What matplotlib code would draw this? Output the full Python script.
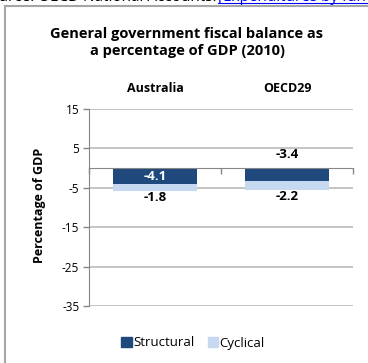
import matplotlib
matplotlib.use("Agg")
import matplotlib.pyplot as plt
from matplotlib.lines import Line2D
from matplotlib.patches import Patch

categories = ["Australia", "OECD29"]
structural = [-4.1, -3.4]
cyclical = [-1.8, -2.2]
yticks = [15, 5, -5, -15, -25, -35]
title = "General government fiscal balance as\na percentage of GDP (2010)"

DARK, LIGHT = "#1F497D", "#C6D9F1"
GRID, AXIS, FRAME = "#BFBFBF", "#868686", "#A6A6A6"

plt.rcParams["font.family"] = ["Open Sans", "DejaVu Sans"]
plt.rcParams["axes.unicode_minus"] = False

W, H = 368, 363
fig = plt.figure(figsize=(W / 100, H / 100), dpi=100)


def px(x, y):
    """pixel (from top-left) -> figure fraction"""
    return x / W, 1 - y / H


# chart frame (cut off on the right / bottom) and the clipped source line above
fig.add_artist(Line2D([5 / W, 5 / W], [0, 1 - 6 / H], color=FRAME, lw=1.5,
                      transform=fig.transFigure))
fig.add_artist(Line2D([5 / W, 1], [1 - 6 / H] * 2, color=FRAME, lw=1.5,
                      transform=fig.transFigure))
fig.text(*px(216, 1.2), "Source: OECD National Accounts.", fontsize=11,
         va="baseline", ha="right")
fig.text(*px(218, 1.2), "[Expenditures by function", fontsize=11,
         color="#0000FF", va="baseline", ha="left")
fig.add_artist(Line2D([218 / W, 1], [1 - 3.3 / H] * 2, color="#0000FF", lw=0.8,
                      transform=fig.transFigure))

fig.text(*px(187, 42.5), title, fontsize=10.5, fontweight="bold", ha="center",
         va="center", linespacing=1.35)

ax = fig.add_axes([89 / W, 1 - 306 / H, 264 / W, 197 / H])
x = list(range(len(categories)))
ax.bar(x, structural, width=0.64, color=DARK, zorder=2)
ax.bar(x, cyclical, bottom=structural, width=0.64, color=LIGHT, zorder=2)
ax.set_xlim(-0.5, len(categories) - 0.5)
ax.set_ylim(min(yticks), max(yticks))
ax.set_yticks(yticks)
ax.tick_params(axis="y", direction="out", length=4, color=AXIS, width=1,
               labelsize=8.5, pad=3)
ax.grid(axis="y", color=GRID, lw=1.3)
ax.set_axisbelow(True)

ax.spines["top"].set_visible(False)
ax.spines["right"].set_visible(False)
ax.spines["left"].set_color(AXIS)
ax.spines["bottom"].set_position(("data", 0))
ax.spines["bottom"].set_color(AXIS)
ax.spines["bottom"].set_zorder(3)
ax.set_xticks([i - 0.5 for i in range(len(categories) + 1)])
ax.set_xticklabels([])
ax.tick_params(axis="x", direction="out", length=4, color=AXIS, width=1)

top = ax.secondary_xaxis("top")
top.set_xticks(x, categories)
top.tick_params(length=0, labelsize=9, pad=10)
for lab in top.get_xticklabels():
    lab.set_fontweight("bold")
top.spines["top"].set_visible(False)

fig.text(*px(40, 205), "Percentage of GDP", fontsize=9, fontweight="bold",
         rotation=90, ha="center", va="center")

# data labels (Excel placement)
ax.text(0, structural[0] / 2, f"{structural[0]:.1f}", color="white",
        fontsize=9.5, fontweight="bold", ha="center", va="center", zorder=4)
ax.annotate(f"{structural[1]:.1f}", (1, 0), xytext=(0, 14),
            textcoords="offset pixels", fontsize=9.5, fontweight="bold",
            ha="center", va="center")
for i in x:
    ax.annotate(f"{cyclical[i]:.1f}", (i, structural[i] + cyclical[i]),
                xytext=(0, -6), textcoords="offset pixels", fontsize=9.5,
                fontweight="bold", ha="center", va="center")

fig.legend(handles=[Patch(color=DARK, label="Structural"),
                    Patch(color=LIGHT, label="Cyclical")],
           loc="center", bbox_to_anchor=px(193, 343), ncol=2, frameon=False,
           fontsize=9.5, handlelength=0.8, handleheight=0.8, handletextpad=0.1,
           columnspacing=1.0, borderpad=0)

fig.savefig("out.png", dpi=100)
